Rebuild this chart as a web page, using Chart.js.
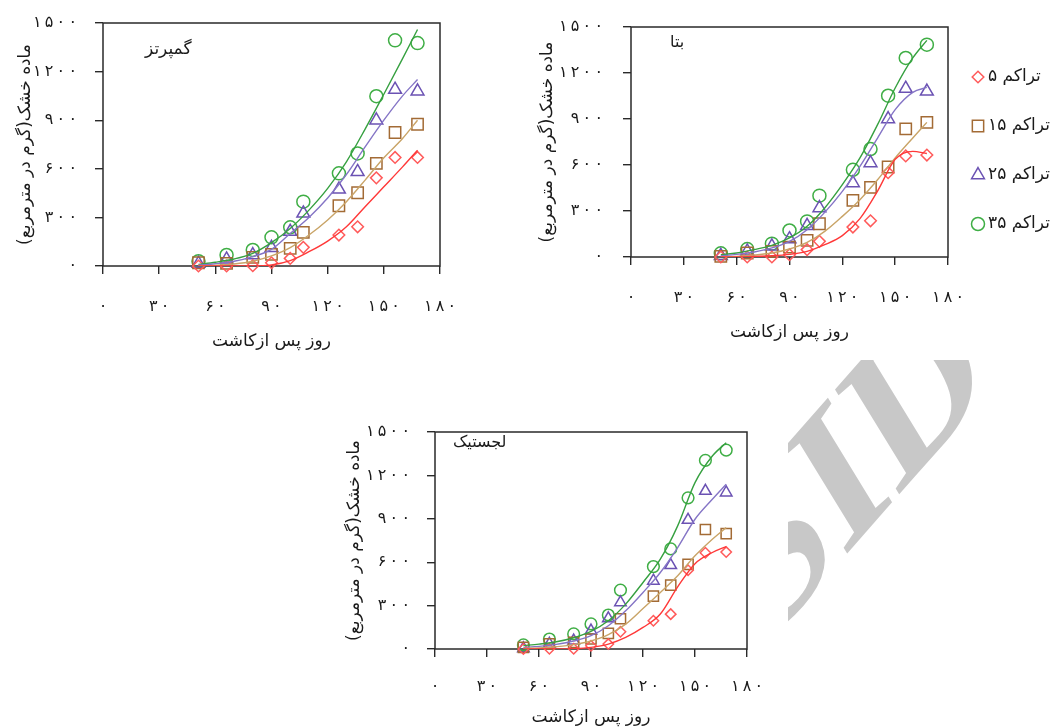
<!DOCTYPE html>
<html lang="fa">
<head>
<meta charset="utf-8">
<script src="https://cdn.jsdelivr.net/npm/chart.js@4.4.1/dist/chart.umd.min.js"></script>
<style>
  html, body { margin: 0; padding: 0; background: #fff; }
  body { width: 1059px; height: 728px; position: relative; overflow: hidden; font-family: 'DejaVu Sans', sans-serif; }
  canvas { position: absolute; }
  #marca-agua { position: absolute; left: 788px; top: 360px; width: 271px; height: 368px; overflow: hidden; }
  #marca-agua span {
    position: absolute; left: -23px; top: 128px;
    font: bold 190px 'Liberation Serif', serif; line-height: 190px; color: #c8c8c8;
    white-space: nowrap; transform-origin: 0 159px;
    transform: matrix(0.733, -0.835, 0.516, 0.841, 0, 0);
  }
</style>
</head>
<body>
<div id="marca-agua"><span>SID</span></div>
<canvas id="chart-g" width="460" height="360" style="left:0;top:0"></canvas>
<canvas id="chart-b" width="539" height="350" style="left:520px;top:0"></canvas>
<canvas id="chart-l" width="440" height="328" style="left:330px;top:400px"></canvas>

<script>
// ── Datos ──
const DIAS        = [51, 66, 80, 90, 100, 107, 126, 136, 146, 156, 168];
const DIAS_AJUSTE = [51, 60, 70, 80, 90, 100, 110, 120, 130, 140, 150, 160, 168];
const TICKS_X = [0, 30, 60, 90, 120, 150, 180];
const TICKS_Y = [0, 300, 600, 900, 1200, 1500];
const SERIES  = ['تراکم ۵', 'تراکم ۱۵', 'تراکم ۲۵', 'تراکم ۳۵'];
const TITULO_X = 'روز پس ازکاشت';
const TITULO_Y = '\u200Fماده خشک(گرم در مترمربع)\u200F';

// گمپرتز
const G_OBS_5  = [0, 0, 2, 20, 47, 115, 191, 242, 544, 670, 670];
const G_OBS_15 = [20, 16, 53, 72, 109, 208, 372, 452, 633, 824, 875];
const G_OBS_25 = [15, 41, 68, 113, 212, 325, 473, 581, 900, 1089, 1079];
const G_OBS_35 = [30, 68, 99, 177, 239, 397, 572, 695, 1048, 1393, 1376];
const G_AJ_5   = [0, 0, 0, 0, 6, 33, 88, 154, 242, 366, 489, 612, 715];
const G_AJ_15  = [2, 4, 12, 29, 62, 113, 191, 284, 397, 530, 668, 787, 900];
const G_AJ_25  = [6, 14, 29, 58, 103, 201, 300, 420, 565, 735, 900, 1050, 1151];
const G_AJ_35  = [10, 23, 43, 78, 144, 232, 345, 479, 643, 845, 1060, 1280, 1460];

// بتا
const B_OBS_5  = [0, 0, 0, 15, 48, 102, 195, 236, 550, 659, 665];
const B_OBS_15 = [4, 26, 37, 65, 108, 217, 369, 454, 587, 835, 878];
const B_OBS_25 = [8, 37, 70, 117, 204, 320, 483, 613, 900, 1098, 1080];
const B_OBS_35 = [24, 52, 87, 173, 232, 400, 569, 704, 1052, 1298, 1385];
const B_AJ_5   = [0, 0, 4, 8, 17, 37, 80, 139, 250, 430, 637, 689, 675];
const B_AJ_15  = [0, 4, 13, 26, 52, 95, 167, 265, 374, 504, 646, 776, 878];
const B_AJ_25  = [8, 17, 33, 59, 102, 178, 291, 428, 591, 776, 961, 1074, 1106];
const B_AJ_35  = [15, 26, 48, 76, 124, 200, 320, 472, 646, 863, 1102, 1298, 1413];

// لجستیک
const L_OBS_5  = [0, 2, 2, 22, 34, 119, 195, 241, 545, 665, 670];
const L_OBS_15 = [11, 35, 46, 69, 108, 209, 366, 442, 585, 826, 798];
const L_OBS_25 = [4, 35, 57, 126, 211, 322, 471, 579, 892, 1092, 1081];
const L_OBS_35 = [28, 69, 104, 173, 235, 407, 570, 692, 1045, 1304, 1375];
const L_AJ_5   = [0, 0, 0, 2, 11, 34, 80, 149, 242, 430, 590, 667, 708];
const L_AJ_15  = [4, 7, 16, 30, 55, 99, 172, 280, 391, 506, 644, 759, 839];
const L_AJ_25  = [11, 18, 32, 55, 92, 161, 264, 391, 529, 701, 897, 1035, 1139];
const L_AJ_35  = [23, 34, 50, 78, 122, 195, 310, 460, 621, 851, 1150, 1334, 1426];

// ── Estilos ──
const ESTILOS = [
  { forma: 'rectRot',  radio: 5.8, marca: '#ff5a5a', linea: '#ff3838' },
  { forma: 'rect',     radio: 8,   marca: '#a36b35', linea: '#c9a467' },
  { forma: 'triangle', radio: 7.4, marca: '#6b52b3', linea: '#8575c6' },
  { forma: 'circle',   radio: 6.5, marca: '#3fae45', linea: '#36a040' },
];
const COLOR_EJE   = '#2a2a2a';
const COLOR_TEXTO = '#1a1a1a';

Chart.defaults.font.family = "'DejaVu Sans', sans-serif";
Chart.defaults.color = COLOR_TEXTO;

// dígitos persas, algo espaciados como en el original
const aPersa = n => String(n).replace(/\d/g, d => '۰۱۲۳۴۵۶۷۸۹'[d]).split('').join('\u2009');

// ── Plugins ──
const marcoPlugin = {
  id: 'marco',
  beforeDatasetsDraw(chart, args, opts) {
    const { ctx, chartArea: a } = chart;
    ctx.save();
    ctx.strokeStyle = COLOR_EJE;
    ctx.lineWidth = 1.5;
    ctx.strokeRect(a.left, a.top, a.right - a.left, a.bottom - a.top);
    ctx.fillStyle = COLOR_TEXTO;
    ctx.font = `${opts.tam}px 'DejaVu Sans', sans-serif`;
    ctx.textBaseline = 'middle';
    ctx.textAlign = 'left';
    ctx.fillText(opts.texto, a.left + opts.dx, a.top + opts.dy);
    ctx.restore();
  }
};

const leyendaPlugin = {
  id: 'leyenda',
  afterDraw(chart, args, opts) {
    if (!opts.mostrar) return;
    const ctx = chart.ctx;
    ctx.save();
    SERIES.forEach((txt, i) => {
      const e = ESTILOS[i];
      const y = opts.y0 + i * opts.paso;
      ctx.strokeStyle = e.marca;
      ctx.fillStyle = 'rgba(0,0,0,0)';
      ctx.lineWidth = 1.5;
      Chart.helpers.drawPoint(ctx, { pointStyle: e.forma, radius: e.radio, rotation: 0, borderWidth: 1.5 }, opts.x, y);
      ctx.fillStyle = COLOR_TEXTO;
      ctx.font = "17px 'DejaVu Sans', sans-serif";
      ctx.textBaseline = 'middle';
      ctx.textAlign = 'left';
      ctx.fillText(txt, opts.x + 10, y);
    });
    ctx.restore();
  }
};

// ── Gráficos ──
function crearGrafico(id, cfg) {
  const datasets = [];
  cfg.ajuste.forEach((serie, i) => {
    datasets.push({
      label: SERIES[i] + ' ajuste',
      data: serie.map((v, k) => ({ x: DIAS_AJUSTE[k], y: v })),
      showLine: true,
      pointRadius: 0,
      borderColor: ESTILOS[i].linea,
      borderWidth: 1.4,
      cubicInterpolationMode: 'monotone',
    });
  });
  cfg.obs.forEach((serie, i) => {
    const e = ESTILOS[i];
    datasets.push({
      label: SERIES[i],
      data: serie.map((v, k) => ({ x: DIAS[k], y: v })),
      showLine: false,
      pointStyle: e.forma,
      pointRadius: e.radio * cfg.escala,
      pointBorderColor: e.marca,
      pointBackgroundColor: 'rgba(0,0,0,0)',
      pointBorderWidth: 1.5,
      clip: false,
    });
  });

  const ejeComun = (ticks, tickPad) => ({
    type: 'linear',
    border: { display: false },
    grid: { drawOnChartArea: false, drawTicks: true, tickLength: 8, color: COLOR_EJE, lineWidth: 1.4 },
    ticks: { padding: tickPad, font: { size: 16 }, color: COLOR_TEXTO, autoSkip: false, maxRotation: 0,
             callback: v => aPersa(v) },
    afterBuildTicks: s => { s.ticks = ticks.map(v => ({ value: v })); },
  });

  return new Chart(document.getElementById(id), {
    type: 'scatter',
    data: { datasets },
    options: {
      responsive: false,
      animation: false,
      events: [],
      layout: { padding: { top: cfg.area.top, right: cfg.ancho - cfg.area.right, left: 0, bottom: 0 } },
      plugins: {
        legend: { display: false },
        tooltip: { enabled: false },
        marco: cfg.etiqueta,
        leyenda: cfg.leyenda || { mostrar: false },
      },
      scales: {
        x: Object.assign(ejeComun(TICKS_X, cfg.padTickX), {
          min: 0, max: 180,
          afterFit: s => {
            s.height = cfg.alto - cfg.area.bottom;
            s.paddingLeft = 0; s.paddingRight = 0;
          },
          title: { display: true, text: TITULO_X, font: { size: 17 }, color: COLOR_TEXTO,
                   padding: { top: 0, bottom: cfg.padTituloX } },
        }),
        y: Object.assign(ejeComun(TICKS_Y, cfg.padTickY), {
          min: 0, max: 1500,
          afterFit: s => {
            s.width = cfg.area.left;
            s.paddingTop = 0; s.paddingBottom = 0;
          },
          title: { display: true, text: TITULO_Y, font: { size: 17 }, color: COLOR_TEXTO,
                   padding: { top: cfg.padTituloY, bottom: 0 } },
        }),
      },
    },
    plugins: [marcoPlugin, leyendaPlugin],
  });
}

crearGrafico('chart-g', {
  ancho: 460, alto: 360,
  area: { left: 103, right: 440, top: 23, bottom: 266 },
  padTickX: 23, padTickY: 18, padTituloX: 8, padTituloY: 15,
  escala: 1,
  obs:    [G_OBS_5, G_OBS_15, G_OBS_25, G_OBS_35],
  ajuste: [G_AJ_5, G_AJ_15, G_AJ_25, G_AJ_35],
  etiqueta: { texto: 'گمپرتز', tam: 17, dx: 42, dy: 27 },
});

crearGrafico('chart-b', {
  ancho: 539, alto: 350,
  area: { left: 111, right: 428, top: 27, bottom: 257 },
  padTickX: 23, padTickY: 20, padTituloX: 7, padTituloY: 17,
  escala: 1,
  obs:    [B_OBS_5, B_OBS_15, B_OBS_25, B_OBS_35],
  ajuste: [B_AJ_5, B_AJ_15, B_AJ_25, B_AJ_35],
  etiqueta: { texto: 'بتا', tam: 16, dx: 39, dy: 16 },
  leyenda: { mostrar: true, x: 458, y0: 77, paso: 49 },
});

crearGrafico('chart-l', {
  ancho: 440, alto: 328,
  area: { left: 105, right: 417, top: 32, bottom: 249 },
  padTickX: 20, padTickY: 17, padTituloX: 0, padTituloY: 14,
  escala: 0.9,
  obs:    [L_OBS_5, L_OBS_15, L_OBS_25, L_OBS_35],
  ajuste: [L_AJ_5, L_AJ_15, L_AJ_25, L_AJ_35],
  etiqueta: { texto: 'لجستیک', tam: 16, dx: 18, dy: 11 },
});
</script>
</body>
</html>
